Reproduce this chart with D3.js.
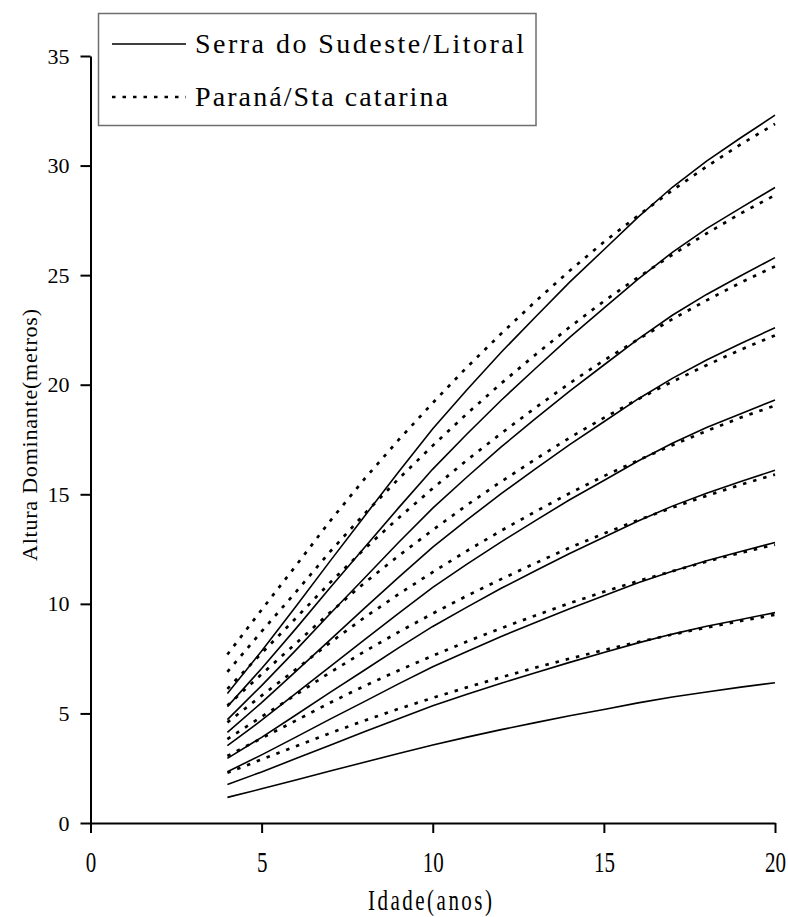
<!DOCTYPE html>
<html>
<head>
<meta charset="utf-8">
<script src="https://cdn.jsdelivr.net/npm/d3@7"></script>
<style>
  html, body { margin: 0; padding: 0; background: #fff; }
  svg { display: block; font-family: "Liberation Serif", "Times New Roman", serif; }
</style>
</head>
<body>
<svg id="chart" width="788" height="917"></svg>
<script>
// Ages (years) at which dominant height is tabulated
const ages = [4, 5, 6, 7, 8, 9, 10, 11, 12, 13, 14, 15, 16, 17, 18, 19, 20];

// Serra do Sudeste/Litoral site curves (dominant height, m)
const serraCurves = [
  [1.17, 1.56, 1.96, 2.37, 2.77, 3.17, 3.56, 3.92, 4.26, 4.58, 4.89, 5.18, 5.48, 5.75, 5.98, 6.20, 6.40],
  [1.76, 2.33, 2.94, 3.55, 4.16, 4.76, 5.35, 5.88, 6.38, 6.86, 7.33, 7.78, 8.22, 8.62, 8.98, 9.29, 9.60],
  [2.34, 3.11, 3.92, 4.74, 5.54, 6.35, 7.13, 7.83, 8.51, 9.15, 9.78, 10.37, 10.96, 11.49, 11.97, 12.39, 12.80],
  [2.95, 3.91, 4.93, 5.96, 6.97, 7.99, 8.97, 9.85, 10.71, 11.51, 12.30, 13.04, 13.78, 14.46, 15.05, 15.58, 16.10],
  [3.53, 4.69, 5.91, 7.14, 8.36, 9.57, 10.75, 11.81, 12.83, 13.80, 14.75, 15.63, 16.52, 17.33, 18.05, 18.68, 19.30],
  [4.14, 5.49, 6.92, 8.36, 9.79, 11.21, 12.59, 13.83, 15.03, 16.16, 17.27, 18.31, 19.35, 20.29, 21.13, 21.88, 22.60],
  [4.72, 6.27, 7.89, 9.55, 11.17, 12.80, 14.37, 15.79, 17.16, 18.45, 19.71, 20.90, 22.08, 23.17, 24.12, 24.97, 25.80],
  [5.31, 7.05, 8.87, 10.73, 12.56, 14.38, 16.15, 17.75, 19.29, 20.74, 22.16, 23.49, 24.82, 26.04, 27.12, 28.07, 29.00],
  [5.91, 7.85, 9.88, 11.95, 13.99, 16.02, 17.99, 19.77, 21.48, 23.09, 24.68, 26.16, 27.65, 29.01, 30.20, 31.27, 32.30]
];

// Paraná/Sta catarina site curves (dominant height, m)
const paranaCurves = [
  [2.29, 2.90, 3.50, 4.10, 4.67, 5.21, 5.71, 6.19, 6.65, 7.09, 7.50, 7.89, 8.26, 8.60, 8.92, 9.22, 9.50],
  [3.06, 3.87, 4.67, 5.49, 6.25, 6.96, 7.63, 8.28, 8.89, 9.47, 10.03, 10.55, 11.04, 11.49, 11.93, 12.33, 12.70],
  [3.83, 4.85, 5.85, 6.87, 7.82, 8.71, 9.56, 10.37, 11.13, 11.86, 12.56, 13.21, 13.82, 14.39, 14.93, 15.44, 15.90],
  [4.59, 5.81, 7.01, 8.23, 9.37, 10.44, 11.45, 12.42, 13.34, 14.21, 15.05, 15.83, 16.55, 17.24, 17.89, 18.50, 19.05],
  [5.36, 6.79, 8.19, 9.61, 10.95, 12.19, 13.37, 14.51, 15.58, 16.60, 17.58, 18.49, 19.34, 20.14, 20.89, 21.60, 22.25],
  [6.12, 7.75, 9.35, 10.97, 12.50, 13.92, 15.27, 16.56, 17.78, 18.95, 20.07, 21.11, 22.07, 22.99, 23.85, 24.66, 25.40],
  [6.90, 8.74, 10.54, 12.38, 14.10, 15.70, 17.22, 18.68, 20.06, 21.37, 22.63, 23.81, 24.90, 25.93, 26.90, 27.82, 28.65],
  [7.69, 9.73, 11.74, 13.78, 15.69, 17.48, 19.17, 20.80, 22.33, 23.80, 25.20, 26.51, 27.72, 28.87, 29.95, 30.97, 31.90]
];

const xTicks = [0, 5, 10, 15, 20];
const yTicks = [0, 5, 10, 15, 20, 25, 30, 35];
const legendLabels = ["Serra do Sudeste/Litoral", "Paraná/Sta catarina"];

const svg = d3.select("#chart");

const x = d3.scaleLinear().domain([0, 20]).range([90.5, 775]);
const y = d3.scaleLinear().domain([0, 35]).range([823, 56]);

const dotDash = "3.5 7";

// Curves
const line = d3.line()
  .x((d, i) => x(ages[i]))
  .y(d => y(d));

svg.append("g").selectAll("path.serra")
  .data(serraCurves).join("path")
  .attr("class", "serra")
  .attr("d", line)
  .attr("fill", "none")
  .attr("stroke", "#000")
  .attr("stroke-width", 1.6);

svg.append("g").selectAll("path.parana")
  .data(paranaCurves).join("path")
  .attr("class", "parana")
  .attr("d", line)
  .attr("fill", "none")
  .attr("stroke", "#000")
  .attr("stroke-width", 2.7)
  .attr("stroke-dasharray", dotDash);

// Y axis
const yAxis = svg.append("g")
  .attr("transform", `translate(${x(0)},0)`)
  .call(d3.axisLeft(y).tickValues(yTicks).tickSize(10).tickSizeOuter(0).tickPadding(11));
yAxis.select(".domain").attr("stroke-width", 2);
yAxis.selectAll(".tick line").attr("stroke-width", 2);
yAxis.selectAll(".tick text")
  .attr("font-family", "Liberation Serif, serif")
  .attr("font-size", 22)
  .attr("fill", "#000");

// X axis
const xAxis = svg.append("g")
  .attr("transform", `translate(0,${y(0)})`)
  .call(d3.axisBottom(x).tickValues(xTicks).tickSize(10).tickSizeOuter(0));
xAxis.select(".domain").attr("stroke-width", 2);
xAxis.selectAll(".tick line").attr("stroke-width", 2);
xAxis.selectAll(".tick text")
  .attr("font-family", "Liberation Serif, serif")
  .attr("font-size", 21)
  .attr("fill", "#000")
  .attr("dy", null)
  .attr("y", 0)
  .attr("transform", "translate(0,49) scale(1,1.45)");

// Axis titles
svg.append("text")
  .attr("transform", "translate(430,910) scale(1,1.4)")
  .attr("text-anchor", "middle")
  .attr("font-size", 21)
  .attr("textLength", 124)
  .attr("lengthAdjust", "spacing")
  .text("Idade(anos)");

svg.append("text")
  .attr("transform", "translate(37,435) rotate(-90)")
  .attr("text-anchor", "middle")
  .attr("font-size", 22)
  .attr("textLength", 252)
  .attr("lengthAdjust", "spacing")
  .text("Altura Dominante(metros)");

// Legend
const legend = svg.append("g");
legend.append("rect")
  .attr("x", 98.5).attr("y", 13.5)
  .attr("width", 437.5).attr("height", 112)
  .attr("fill", "#fff")
  .attr("stroke", "#6e6e6e")
  .attr("stroke-width", 1.5);

const legendRows = [
  { label: legendLabels[0], cy: 44, dash: null, width: 1.6, len: 329 },
  { label: legendLabels[1], cy: 97, dash: dotDash, width: 2.7, len: 253 }
];
legendRows.forEach(r => {
  legend.append("line")
    .attr("x1", 112).attr("x2", 186)
    .attr("y1", r.cy).attr("y2", r.cy)
    .attr("stroke", "#000")
    .attr("stroke-width", r.width)
    .attr("stroke-dasharray", r.dash);
  legend.append("text")
    .attr("x", 195).attr("y", r.cy + 9)
    .attr("font-size", 28)
    .attr("textLength", r.len)
    .attr("lengthAdjust", "spacing")
    .text(r.label);
});
</script>
</body>
</html>
